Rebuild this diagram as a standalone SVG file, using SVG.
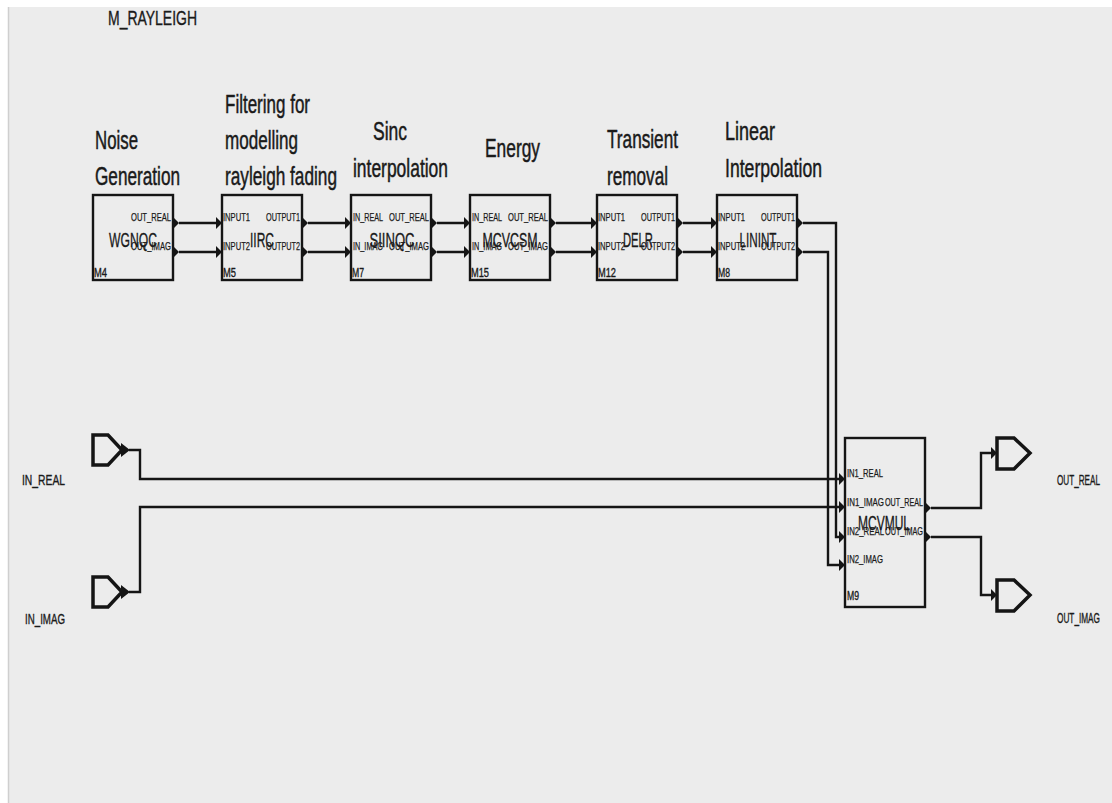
<svg xmlns="http://www.w3.org/2000/svg" width="1112" height="803" viewBox="0 0 1112 803">
<style>
.box{fill:none;stroke:#151515;stroke-width:2.4}
.wire{fill:none;stroke:#151515;stroke-width:2.4}
.port{fill:none;stroke:#151515;stroke-width:3.5;stroke-linejoin:miter}
.tri{fill:#151515}
text{font-family:"Liberation Sans",Arial,sans-serif;fill:#1a1a1a;stroke:#1a1a1a;stroke-width:0.35}
.hd{font-size:26px;stroke-width:0.5}
.pl{font-size:11.5px;stroke-width:0.25}
.cl{font-size:21px}
.ml{font-size:12px}
.io{font-size:14px}
.end{text-anchor:end}
.mid{text-anchor:middle}
</style>
<defs>
<path id="ar" d="M0,-6 L6,0 L0,6 Z"/>
</defs>
<rect x="0" y="0" width="1112" height="803" fill="#ffffff"/>
<rect x="8" y="7" width="1104" height="796" fill="#ececec"/>
<line x1="8.5" y1="7" x2="8.5" y2="803" stroke="#cfcfcf" stroke-width="1.5"/>
<text x="108" y="25" style="font-size:20px" textLength="89" lengthAdjust="spacingAndGlyphs">M_RAYLEIGH</text>

<g id="captions">
<text class="hd" x="95" y="149" textLength="43" lengthAdjust="spacingAndGlyphs">Noise</text>
<text class="hd" x="95" y="185" textLength="85" lengthAdjust="spacingAndGlyphs">Generation</text>
<text class="hd" x="225" y="113" textLength="85" lengthAdjust="spacingAndGlyphs">Filtering for</text>
<text class="hd" x="225" y="149" textLength="73" lengthAdjust="spacingAndGlyphs">modelling</text>
<text class="hd" x="225" y="185" textLength="112" lengthAdjust="spacingAndGlyphs">rayleigh fading</text>
<text class="hd" x="373" y="140" textLength="34" lengthAdjust="spacingAndGlyphs">Sinc</text>
<text class="hd" x="353" y="177" textLength="95" lengthAdjust="spacingAndGlyphs">interpolation</text>
<text class="hd" x="485" y="157" textLength="55" lengthAdjust="spacingAndGlyphs">Energy</text>
<text class="hd" x="607" y="148" textLength="71" lengthAdjust="spacingAndGlyphs">Transient</text>
<text class="hd" x="607" y="185" textLength="61" lengthAdjust="spacingAndGlyphs">removal</text>
<text class="hd" x="725" y="140" textLength="50" lengthAdjust="spacingAndGlyphs">Linear</text>
<text class="hd" x="725" y="177" textLength="97" lengthAdjust="spacingAndGlyphs">Interpolation</text>
</g>

<g id="connectors">
<path class="wire" d="M179,223 H216 M179,252 H216"/>
<path class="wire" d="M308,223 H345 M308,252 H345"/>
<path class="wire" d="M437,223 H464 M437,252 H464"/>
<path class="wire" d="M556,223 H591 M556,252 H591"/>
<path class="wire" d="M683,223 H711 M683,252 H711"/>
<path class="wire" d="M803,223 H836 V537 H839"/>
<path class="wire" d="M803,252 H828 V565 H839"/>
<path class="wire" d="M129,450 H140 V479 H839"/>
<path class="wire" d="M129,592 H140 V507 H839"/>
<path class="wire" d="M931,508 H981 V453 H991"/>
<path class="wire" d="M931,537 H981 V595 H991"/>
</g>

<g id="WGNQC">
<rect class="box" x="93" y="195" width="80" height="85"/>
<use href="#ar" class="tri" x="173" y="223"/>
<use href="#ar" class="tri" x="173" y="252"/>
<text class="cl mid" x="133" y="247" textLength="48" lengthAdjust="spacingAndGlyphs">WGNQC</text>
<text class="pl end" x="171" y="221" textLength="40" lengthAdjust="spacingAndGlyphs">OUT_REAL</text>
<text class="pl end" x="171" y="250" textLength="40" lengthAdjust="spacingAndGlyphs">OUT_IMAG</text>
<text class="ml" x="94" y="277" textLength="13" lengthAdjust="spacingAndGlyphs">M4</text>
</g>

<g id="IIRC">
<rect class="box" x="222" y="195" width="80" height="85"/>
<use href="#ar" class="tri" x="216" y="223"/>
<use href="#ar" class="tri" x="216" y="252"/>
<use href="#ar" class="tri" x="302" y="223"/>
<use href="#ar" class="tri" x="302" y="252"/>
<text class="cl mid" x="262" y="247" textLength="24" lengthAdjust="spacingAndGlyphs">IIRC</text>
<text class="pl" x="223" y="221" textLength="27" lengthAdjust="spacingAndGlyphs">INPUT1</text>
<text class="pl" x="223" y="250" textLength="27" lengthAdjust="spacingAndGlyphs">INPUT2</text>
<text class="pl end" x="300" y="221" textLength="34" lengthAdjust="spacingAndGlyphs">OUTPUT1</text>
<text class="pl end" x="300" y="250" textLength="34" lengthAdjust="spacingAndGlyphs">OUTPUT2</text>
<text class="ml" x="223" y="277" textLength="13" lengthAdjust="spacingAndGlyphs">M5</text>
</g>

<g id="SIINQC">
<rect class="box" x="351" y="195" width="80" height="85"/>
<use href="#ar" class="tri" x="345" y="223"/>
<use href="#ar" class="tri" x="345" y="252"/>
<use href="#ar" class="tri" x="431" y="223"/>
<use href="#ar" class="tri" x="431" y="252"/>
<text class="cl mid" x="392" y="247" textLength="45" lengthAdjust="spacingAndGlyphs">SIINQC</text>
<text class="pl" x="353" y="221" textLength="30" lengthAdjust="spacingAndGlyphs">IN_REAL</text>
<text class="pl" x="353" y="250" textLength="30" lengthAdjust="spacingAndGlyphs">IN_IMAG</text>
<text class="pl end" x="429" y="221" textLength="40" lengthAdjust="spacingAndGlyphs">OUT_REAL</text>
<text class="pl end" x="429" y="250" textLength="40" lengthAdjust="spacingAndGlyphs">OUT_IMAG</text>
<text class="ml" x="352" y="277" textLength="12" lengthAdjust="spacingAndGlyphs">M7</text>
</g>

<g id="MCVCSM">
<rect class="box" x="470" y="195" width="80" height="85"/>
<use href="#ar" class="tri" x="464" y="223"/>
<use href="#ar" class="tri" x="464" y="252"/>
<use href="#ar" class="tri" x="550" y="223"/>
<use href="#ar" class="tri" x="550" y="252"/>
<text class="cl mid" x="510" y="247" textLength="55" lengthAdjust="spacingAndGlyphs">MCVCSM</text>
<text class="pl" x="472" y="221" textLength="30" lengthAdjust="spacingAndGlyphs">IN_REAL</text>
<text class="pl" x="472" y="250" textLength="30" lengthAdjust="spacingAndGlyphs">IN_IMAG</text>
<text class="pl end" x="548" y="221" textLength="40" lengthAdjust="spacingAndGlyphs">OUT_REAL</text>
<text class="pl end" x="548" y="250" textLength="40" lengthAdjust="spacingAndGlyphs">OUT_IMAG</text>
<text class="ml" x="471" y="277" textLength="18" lengthAdjust="spacingAndGlyphs">M15</text>
</g>

<g id="DELR">
<rect class="box" x="597" y="195" width="80" height="85"/>
<use href="#ar" class="tri" x="591" y="223"/>
<use href="#ar" class="tri" x="591" y="252"/>
<use href="#ar" class="tri" x="677" y="223"/>
<use href="#ar" class="tri" x="677" y="252"/>
<text class="cl mid" x="638" y="247" textLength="30" lengthAdjust="spacingAndGlyphs">DELR</text>
<text class="pl" x="598" y="221" textLength="27" lengthAdjust="spacingAndGlyphs">INPUT1</text>
<text class="pl" x="598" y="250" textLength="27" lengthAdjust="spacingAndGlyphs">INPUT2</text>
<text class="pl end" x="675" y="221" textLength="34" lengthAdjust="spacingAndGlyphs">OUTPUT1</text>
<text class="pl end" x="675" y="250" textLength="34" lengthAdjust="spacingAndGlyphs">OUTPUT2</text>
<text class="ml" x="598" y="277" textLength="18" lengthAdjust="spacingAndGlyphs">M12</text>
</g>

<g id="LININT">
<rect class="box" x="717" y="195" width="80" height="85"/>
<use href="#ar" class="tri" x="711" y="223"/>
<use href="#ar" class="tri" x="711" y="252"/>
<use href="#ar" class="tri" x="797" y="223"/>
<use href="#ar" class="tri" x="797" y="252"/>
<text class="cl mid" x="758" y="247" textLength="37" lengthAdjust="spacingAndGlyphs">LININT</text>
<text class="pl" x="718" y="221" textLength="27" lengthAdjust="spacingAndGlyphs">INPUT1</text>
<text class="pl" x="718" y="250" textLength="27" lengthAdjust="spacingAndGlyphs">INPUT2</text>
<text class="pl end" x="795" y="221" textLength="34" lengthAdjust="spacingAndGlyphs">OUTPUT1</text>
<text class="pl end" x="795" y="250" textLength="34" lengthAdjust="spacingAndGlyphs">OUTPUT2</text>
<text class="ml" x="718" y="277" textLength="12" lengthAdjust="spacingAndGlyphs">M8</text>
</g>

<g id="MCVMUL">
<rect class="box" x="845" y="438" width="80" height="169"/>
<use href="#ar" class="tri" x="839" y="479"/>
<use href="#ar" class="tri" x="839" y="507"/>
<use href="#ar" class="tri" x="839" y="537"/>
<use href="#ar" class="tri" x="839" y="565"/>
<use href="#ar" class="tri" x="925" y="508"/>
<use href="#ar" class="tri" x="925" y="537"/>
<text class="cl mid" x="884" y="530" textLength="52" lengthAdjust="spacingAndGlyphs">MCVMUL</text>
<text class="pl" x="847" y="477" textLength="36" lengthAdjust="spacingAndGlyphs">IN1_REAL</text>
<text class="pl" x="847" y="506" textLength="37" lengthAdjust="spacingAndGlyphs">IN1_IMAG</text>
<text class="pl" x="847" y="535" textLength="37" lengthAdjust="spacingAndGlyphs">IN2_REAL</text>
<text class="pl" x="847" y="563" textLength="36" lengthAdjust="spacingAndGlyphs">IN2_IMAG</text>
<text class="pl end" x="923" y="506" textLength="38" lengthAdjust="spacingAndGlyphs">OUT_REAL</text>
<text class="pl end" x="923" y="535" textLength="38" lengthAdjust="spacingAndGlyphs">OUT_IMAG</text>
<text class="ml" x="847" y="600" textLength="12" lengthAdjust="spacingAndGlyphs">M9</text>
</g>

<g id="IN_REAL">
<path class="port" d="M108,435 H93 V465 H108 L122,450 Z"/>
<path class="tri" d="M121,443 L130,450 L121,457 Z"/>
<text class="io" x="22" y="485" textLength="43" lengthAdjust="spacingAndGlyphs">IN_REAL</text>
</g>

<g id="IN_IMAG">
<path class="port" d="M108,577 H93 V607 H108 L122,592 Z"/>
<path class="tri" d="M121,585 L130,592 L121,599 Z"/>
<text class="io" x="25" y="624" textLength="40" lengthAdjust="spacingAndGlyphs">IN_IMAG</text>
</g>

<g id="OUT_REAL">
<use href="#ar" class="tri" x="991" y="453"/>
<path class="port" d="M997,438 H1014 L1030,453 L1014,469 H997 Z"/>
<text class="io" x="1057" y="485" textLength="43" lengthAdjust="spacingAndGlyphs">OUT_REAL</text>
</g>

<g id="OUT_IMAG">
<use href="#ar" class="tri" x="991" y="595"/>
<path class="port" d="M997,580 H1014 L1030,595 L1014,611 H997 Z"/>
<text class="io" x="1057" y="623" textLength="43" lengthAdjust="spacingAndGlyphs">OUT_IMAG</text>
</g>
</svg>
